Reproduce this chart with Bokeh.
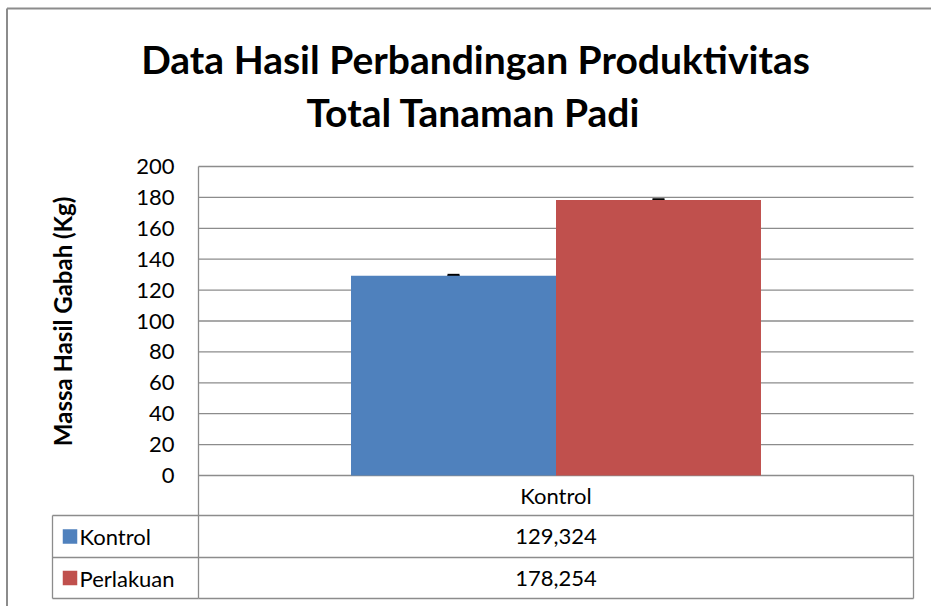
from math import pi
from bokeh.plotting import figure
from bokeh.models import Range1d, FixedTicker, ColumnDataSource, Whisker, TeeHead
from bokeh.core.properties import value
from bokeh.embed import file_html
from bokeh.resources import INLINE

# ---------------- data ----------------
title_lines = ["Data Hasil Perbandingan Produktivitas", "Total Tanaman Padi"]
y_axis_title = "Massa Hasil  Gabah (Kg)"
categories = ["Kontrol"]
series_names = ["Kontrol", "Perlakuan"]
kontrol_values = [129.324]
perlakuan_values = [178.254]
kontrol_errors = [0.4]
perlakuan_errors = [0.4]
y_ticks = [0, 20, 40, 60, 80, 100, 120, 140, 160, 180, 200]
series_colors = ["#4F81BD", "#C0504D"]

series_values = [kontrol_values, perlakuan_values]
series_errors = [kontrol_errors, perlakuan_errors]

# ---------------- geometry (pixels) ----------------
FONT = "Lato"
W, H = 931, 606
X0, X1 = 198, 913          # category band in pixels (plot area)
Y0PX, Y200PX = 475, 166    # pixel rows of value 0 and 200
PXX = X1 - X0
PXY = (Y0PX - Y200PX) / 200.0
GRAY = "#8c8c8c"
LW = 1.3


def X(px):
    return (px - X0) / PXX


def Y(py):
    return (Y0PX - py) / PXY


p = figure(width=W, height=H, output_backend="svg", toolbar_location=None,
           x_range=Range1d(X(0), X(W)), y_range=Range1d(Y(H), Y(0)),
           x_axis_location=None,
           min_border_left=0, min_border_right=0,
           min_border_top=0, min_border_bottom=0)
p.outline_line_color = None
p.background_fill_color = "white"
p.border_fill_color = "white"
p.xgrid.visible = False
p.ygrid.visible = False

row_edges = [475, 515, 557, 598]   # pixel rows of data-table lines
TL = 52                            # left edge of legend column

# y axis, positioned at the left edge of the plot area
ax = p.yaxis[0]
ax.fixed_location = 0
ax.bounds = (Y(row_edges[-1]), max(y_ticks))
ax.ticker = FixedTicker(ticks=y_ticks)
ax.major_tick_out = 0
ax.major_tick_in = 0
ax.minor_tick_out = 0
ax.minor_tick_in = 0
ax.axis_line_color = GRAY
ax.axis_line_width = LW
ax.major_label_text_font = FONT
ax.major_label_text_font_size = "22px"
ax.major_label_text_color = "black"
ax.major_label_standoff = 24

# horizontal gridlines across the plot area
p.segment(x0=[0] * len(y_ticks), x1=[1] * len(y_ticks), y0=y_ticks, y1=y_ticks,
          line_color=GRAY, line_width=LW)

# outer chart border (top and left visible)
p.segment(x0=[X(6.5), X(6.5)], x1=[X(6.5), X(W)], y0=[Y(8), Y(8)], y1=[Y(H), Y(8)],
          line_color=GRAY, line_width=2)

# bars
n_cat = len(categories)
n_ser = len(series_names)
bar_w = 0.2867
xs_all, tops_all, cols_all, up_all, lo_all = [], [], [], [], []
for j, (vals, errs) in enumerate(zip(series_values, series_errors)):
    for i, v in enumerate(vals):
        xc = (i + 0.5) / n_cat + (j - (n_ser - 1) / 2.0) * bar_w
        xs_all.append(xc)
        tops_all.append(v)
        cols_all.append(series_colors[j])
        up_all.append(v + errs[i])
        lo_all.append(v - errs[i])
src = ColumnDataSource(dict(x=xs_all, top=tops_all, color=cols_all, upper=up_all, lower=lo_all))
p.vbar(x="x", top="top", bottom=0, width=bar_w, color="color", line_color=None, source=src)
p.add_layout(Whisker(base="x", upper="upper", lower="lower", source=src,
                     line_color="black", line_width=2,
                     upper_head=TeeHead(size=12, line_color="black", line_width=2.5),
                     lower_head=TeeHead(size=12, line_color="black", line_width=2.5)))

# ---------------- data table ----------------
for ry in row_edges[1:]:
    p.segment(x0=0, x1=1, y0=Y(ry), y1=Y(ry), line_color=GRAY, line_width=LW)
for ry in row_edges[1:]:
    p.segment(x0=X(TL), x1=0, y0=Y(ry), y1=Y(ry), line_color=GRAY, line_width=LW)
p.segment(x0=1, x1=1, y0=0, y1=Y(row_edges[-1]), line_color=GRAY, line_width=LW)
p.segment(x0=X(TL), x1=X(TL), y0=Y(row_edges[1]), y1=Y(row_edges[-1]), line_color=GRAY, line_width=LW)

# header text
for i, c in enumerate(categories):
    p.text(x=[(i + 0.5) / n_cat], y=[Y((row_edges[0] + row_edges[1]) / 2)], text=[c],
           text_font=value(FONT), text_font_size="22px", text_align="center",
           text_baseline="middle", text_color="black")
# value rows + legend keys
for j in range(n_ser):
    yc = (row_edges[j + 1] + row_edges[j + 2]) / 2
    for i, v in enumerate(series_values[j]):
        p.text(x=[(i + 0.5) / n_cat], y=[Y(yc)], text=[f"{v:.3f}".replace(".", ",")],
               text_font=value(FONT), text_font_size="22px", text_align="center",
               text_baseline="middle", text_color="black")
    p.scatter(x=[X(69.5)], y=[Y(yc)], marker="square", size=14.5,
              fill_color=series_colors[j], line_color=None)
    p.text(x=[X(79)], y=[Y(yc)], text=[series_names[j]], text_font=value(FONT),
           text_font_size="22px", text_align="left", text_baseline="middle",
           text_color="black")

# ---------------- titles ----------------
p.text(x=[X(475), X(473)], y=[Y(58), Y(111)], text=title_lines, text_font=value(FONT),
       text_font_size="39px", text_font_style="bold", text_align="center",
       text_baseline="middle", text_color="black")
p.text(x=[X(62)], y=[Y(318)], text=[y_axis_title], text_font=value(FONT),
       text_font_size="24px", text_font_style="bold", text_align="center",
       text_baseline="middle", angle=pi / 2, text_color="black")

open("out.html", "w").write(file_html(p, INLINE))
